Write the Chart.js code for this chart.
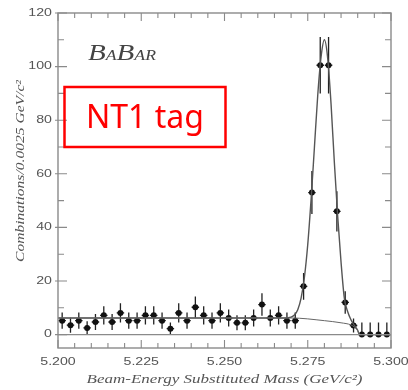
<!DOCTYPE html>
<html>
<head>
<meta charset="utf-8">
<script src="https://cdn.jsdelivr.net/npm/chart.js@4"></script>
<style>
  body { margin: 0; background: #fff; }
  #wrap { position: relative; width: 408px; height: 390px; }
  #chart { position: absolute; left: 0; top: 0; filter: blur(0.45px); }
  #over { position: absolute; left: 0; top: 0; }
</style>
</head>
<body>
<div id="wrap">
  <canvas id="chart" width="408" height="390"></canvas>
  <canvas id="over" width="408" height="390"></canvas>
</div>
<script>
// bin centres (GeV/c^2), 0.0025 wide
const binCenters = [5.20125, 5.20375, 5.20625, 5.20875, 5.21125, 5.21375, 5.21625, 5.21875, 5.22125, 5.22375,
                    5.22625, 5.22875, 5.23125, 5.23375, 5.23625, 5.23875, 5.24125, 5.24375, 5.24625, 5.24875,
                    5.25125, 5.25375, 5.25625, 5.25875, 5.26125, 5.26375, 5.26625, 5.26875, 5.27125, 5.27375,
                    5.27625, 5.27875, 5.28125, 5.28375, 5.28625, 5.28875, 5.29125, 5.29375, 5.29625, 5.29875];
const counts = [5.2, 3.5, 5.2, 2.5, 4.7, 7.2, 4.7, 8.1, 5.2, 5.2,
                7.2, 7.2, 5.2, 2.2, 8.1, 5.2, 10.2, 7.2, 5.2, 8.1,
                6.2, 4.4, 4.4, 6.2, 11.2, 6.2, 7.2, 5.2, 5.2, 18,
                53, 100.5, 100.5, 46, 12, 3.4, 0, 0, 0, 0];
const errUp = [3, 2.8, 3, 2.5, 3, 3.4, 3, 3.6, 3, 3,
               3.4, 3.4, 3, 2.3, 3.6, 3, 4, 3.4, 3, 3.6,
               3.2, 2.8, 2.8, 3.2, 4.2, 3.2, 3.4, 3, 3, 5,
               8, 10.5, 10.5, 7.5, 4.2, 2.6, 4.5, 4.5, 4.5, 4.5];
const errDown = [3, 2.8, 3, 2.5, 3, 3.4, 3, 3.6, 3, 3,
                 3.4, 3.4, 3, 2.3, 3.6, 3, 4, 3.4, 3, 3.6,
                 3.2, 2.8, 2.8, 3.2, 4.2, 3.2, 3.4, 3, 3, 5,
                 8, 10.5, 10.5, 7.5, 4.2, 2.6, 0.8, 0.8, 0.8, 0.8];
const halfBin = 0.00125;

// total fit (signal + background)
const fitX = [5.200, 5.230, 5.260, 5.268, 5.270, 5.271, 5.272, 5.273, 5.274, 5.275, 5.276, 5.277, 5.278, 5.279,
              5.280, 5.281, 5.282, 5.283, 5.284, 5.285, 5.286, 5.287, 5.288, 5.289, 5.290, 5.2905, 5.300];
const fitY = [6.2, 6.2, 6.2, 6.2, 6.5, 7.3, 9.3, 13.6, 21.4, 33.6, 50.4, 69.8, 89.3, 103.6,
              110, 103, 86, 64, 44, 27, 13.5, 8.5, 5.5, 3.4, 1.6, 0, 0];
// background (ARGUS-like) curve
const bgX = [5.200, 5.250, 5.270, 5.280, 5.285, 5.288, 5.289, 5.290, 5.2905];
const bgY = [6.2, 6.2, 6.2, 5.2, 4.4, 3.6, 2.8, 1.4, 0];

const yLabels = [0, 20, 40, 60, 80, 100, 120];
const xLabels = [5.200, 5.225, 5.250, 5.275, 5.300];

const greyText = '#555';
const frameCol = '#8a8a8a';

const errorBars = {
  id: 'errorBars',
  beforeDatasetsDraw(chart) {
    const ctx = chart.ctx, xs = chart.scales.x, ys = chart.scales.y;
    ctx.save();
    ctx.strokeStyle = '#222';
    ctx.lineWidth = 1.3;
    for (let i = 0; i < binCenters.length; i++) {
      const px = xs.getPixelForValue(binCenters[i]);
      const py = ys.getPixelForValue(counts[i]);
      ctx.beginPath();
      ctx.moveTo(px, ys.getPixelForValue(counts[i] + errUp[i]));
      ctx.lineTo(px, ys.getPixelForValue(counts[i] - errDown[i]));
      ctx.moveTo(xs.getPixelForValue(binCenters[i] - halfBin * 0.9), py);
      ctx.lineTo(xs.getPixelForValue(binCenters[i] + halfBin * 0.9), py);
      ctx.stroke();
    }
    ctx.restore();
  }
};

function stretchText(ctx, txt, x, y, sx, align) {
  ctx.save();
  ctx.translate(x, y);
  ctx.scale(sx, 1);
  ctx.textAlign = align;
  ctx.fillText(txt, 0, 0);
  ctx.restore();
}

const frame = {
  id: 'frame',
  afterDraw(chart) {
    const ctx = chart.ctx, xs = chart.scales.x, ys = chart.scales.y;
    const a = chart.chartArea;
    ctx.save();
    ctx.strokeStyle = frameCol;
    ctx.lineWidth = 1.4;
    ctx.strokeRect(a.left, a.top, a.right - a.left, a.bottom - a.top);
    // zero line
    const y0 = ys.getPixelForValue(0);
    ctx.beginPath();
    ctx.moveTo(a.left, y0); ctx.lineTo(a.right, y0);
    ctx.stroke();
    // y ticks every 10
    ctx.lineWidth = 1.1;
    ctx.beginPath();
    for (let v = 0; v <= 120; v += 10) {
      const py = ys.getPixelForValue(v);
      const len = v % 20 === 0 ? 9 : 6;
      ctx.moveTo(a.left - (v % 20 === 0 ? 3 : 0), py); ctx.lineTo(a.left + len, py);
      ctx.moveTo(a.right, py); ctx.lineTo(a.right - len, py);
    }
    // x ticks every 0.005
    for (let k = 0; k <= 20; k++) {
      const px = xs.getPixelForValue(5.2 + k * 0.005);
      const len = k % 5 === 0 ? 8 : 5;
      ctx.moveTo(px, a.top); ctx.lineTo(px, a.top + len);
      ctx.moveTo(px, a.bottom); ctx.lineTo(px, a.bottom - len);
    }
    ctx.stroke();

    // tick labels
    ctx.fillStyle = greyText;
    ctx.font = '10.5px "Liberation Sans", Arial, sans-serif';
    ctx.textBaseline = 'middle';
    yLabels.forEach(v => stretchText(ctx, String(v), a.left - 6, ys.getPixelForValue(v), 1.35, 'right'));
    ctx.textBaseline = 'alphabetic';
    xLabels.forEach(v => stretchText(ctx, v.toFixed(3), xs.getPixelForValue(v), 365, 1.35, 'center'));

    // axis titles
    ctx.font = 'italic 12px "Liberation Serif", "DejaVu Serif", serif';
    const xt = 'Beam-Energy Substituted Mass (GeV/c\u00B2)';
    const wx = ctx.measureText(xt).width;
    stretchText(ctx, xt, (a.left + a.right) / 2, 383, 276 / wx, 'center');

    ctx.font = 'italic 10px "Liberation Serif", "DejaVu Serif", serif';
    const yt = 'Combinations/0.0025 GeV/c\u00B2';
    const wy = ctx.measureText(yt).width;
    ctx.save();
    ctx.translate(24, 171);
    ctx.rotate(-Math.PI / 2);
    ctx.scale(182 / wy, 1.3);
    ctx.textAlign = 'center';
    ctx.fillText(yt, 0, 0);
    ctx.restore();

    // BaBar logo
    ctx.fillStyle = '#444';
    const parts = [['B', 23], ['A', 14], ['B', 23], ['AR', 14]];
    let w = 0;
    parts.forEach(([t, s]) => {
      ctx.font = 'italic ' + s + 'px "Liberation Serif", serif';
      w += ctx.measureText(t).width;
    });
    ctx.save();
    ctx.translate(88, 60);
    ctx.scale(68 / w, 1);
    let x = 0;
    parts.forEach(([t, s]) => {
      ctx.font = 'italic ' + s + 'px "Liberation Serif", serif';
      ctx.fillText(t, x, 0);
      x += ctx.measureText(t).width;
    });
    ctx.restore();
    ctx.restore();
  }
};

new Chart(document.getElementById('chart'), {
  type: 'scatter',
  data: {
    datasets: [
      {
        label: 'background',
        data: bgX.map((v, i) => ({ x: v, y: bgY[i] })),
        showLine: true, pointRadius: 0, borderColor: '#666', borderWidth: 1,
        cubicInterpolationMode: 'monotone'
      },
      {
        label: 'fit',
        data: fitX.map((v, i) => ({ x: v, y: fitY[i] })),
        showLine: true, pointRadius: 0, borderColor: '#555', borderWidth: 1.4,
        cubicInterpolationMode: 'monotone'
      },
      {
        label: 'data',
        data: binCenters.map((v, i) => ({ x: v, y: counts[i] })),
        pointRadius: 3, pointBackgroundColor: '#111', pointBorderColor: '#111', pointBorderWidth: 0
      }
    ]
  },
  options: {
    responsive: false,
    animation: false,
    layout: { padding: { left: 58, right: 17, top: 13, bottom: 42 } },
    plugins: { legend: { display: false }, tooltip: { enabled: false } },
    scales: {
      x: { type: 'linear', min: 5.2, max: 5.3, display: false },
      y: { type: 'linear', min: -5, max: 120, display: false }
    }
  },
  plugins: [errorBars, frame]
});

// red annotation box
const o = document.getElementById('over').getContext('2d');
o.strokeStyle = '#f00';
o.lineWidth = 2.5;
o.strokeRect(64.5, 87, 161, 60);
o.fillStyle = '#f00';
o.font = '32px "Noto Sans", sans-serif';
o.fillText('NT1 tag', 86, 128);
</script>
</body>
</html>
